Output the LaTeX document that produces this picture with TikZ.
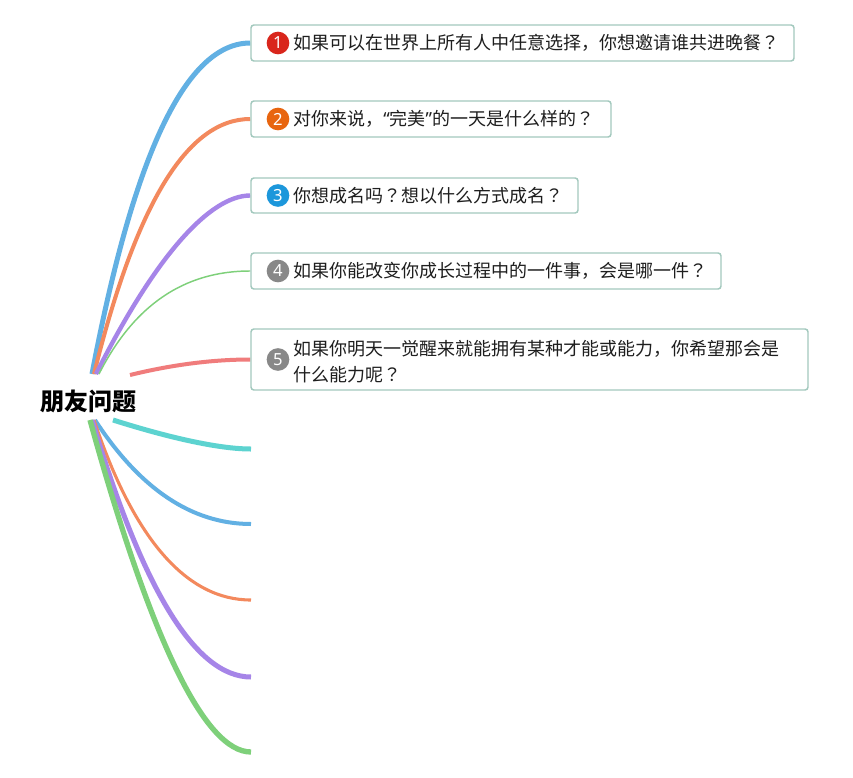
\documentclass[tikz,border=0pt]{standalone}
\usepackage{fontspec}
\setmainfont{Noto Sans CJK SC}
\newfontfamily\tcq{Noto Sans CJK TC}
\newfontfamily\latinq{Noto Sans}
\newcommand{\qmark}{{\tcq ？}}
\usetikzlibrary{backgrounds,calc}
\definecolor{cblue}{HTML}{62B0E3}
\definecolor{corange}{HTML}{F3895D}
\definecolor{cpurple}{HTML}{A685E8}
\definecolor{cgreen}{HTML}{7ED07A}
\definecolor{cred}{HTML}{F07C7C}
\definecolor{cteal}{HTML}{5DD3D0}
\definecolor{boxc}{HTML}{A3C9BE}
\definecolor{txt}{HTML}{1E1E1E}
\definecolor{bred}{HTML}{D9261C}
\definecolor{borange}{HTML}{E8650F}
\definecolor{bblue}{HTML}{1C97DB}
\definecolor{bgray}{HTML}{888888}
\begin{document}
\begin{tikzpicture}[x=0.75pt,y=-0.75pt,
  qbox/.style={draw=boxc, line width=1.1pt, rounded corners=2.2pt, fill=white, inner sep=0pt},
  qtext/.style={anchor=west, inner sep=0pt, font=\fontsize{13.5pt}{19.5pt}\selectfont, text=txt, align=left},
  badge/.style={circle, fill=#1, text=white, inner sep=0pt, minimum size=17pt, font=\latinq\fontsize{12.5pt}{12.5pt}\selectfont},
  branch/.style={draw=#1, line cap=butt}]
\useasboundingbox (0,0) rectangle (853,778);
% root
\node[inner sep=0pt, font=\bfseries\fontsize{18pt}{18pt}\selectfont, text=black] (root) at (88,401) {朋友问题};
% question boxes
\node[qbox, minimum width=543*0.75pt, minimum height=36*0.75pt] (q1) at (522.5,43) {};
\node[badge=bred] (b1) at (278,43) {1};
\node[qtext] (t1) at (293,43) {如果可以在世界上所有人中任意选择，你想邀请谁共进晚餐\qmark};
\node[qbox, minimum width=360*0.75pt, minimum height=36*0.75pt] (q2) at (431,119) {};
\node[badge=borange] (b2) at (278,119) {2};
\node[qtext] (t2) at (293,119) {对你来说，{\latinq “}完美{\latinq ”}的一天是什么样的\qmark};
\node[qbox, minimum width=327*0.75pt, minimum height=35*0.75pt] (q3) at (414.5,195.5) {};
\node[badge=bblue] (b3) at (278,195.5) {3};
\node[qtext] (t3) at (293,195.5) {你想成名吗\qmark 想以什么方式成名\qmark};
\node[qbox, minimum width=470*0.75pt, minimum height=36*0.75pt] (q4) at (486,271) {};
\node[badge=bgray] (b4) at (278,271) {4};
\node[qtext] (t4) at (293,271) {如果你能改变你成长过程中的一件事，会是哪一件\qmark};
\node[qbox, minimum width=557*0.75pt, minimum height=61*0.75pt] (q5) at (529.5,359.5) {};
\node[badge=bgray] (b5) at (278,359.5) {5};
\node[qtext] (t5) at (293,362) {如果你明天一觉醒来就能拥有某种才能或能力，你希望那会是\\什么能力呢\qmark};
% branch start and free end points
\coordinate (s1) at (92,374);
\coordinate (s2) at (94,374);
\coordinate (s3) at (96,374);
\coordinate (s4) at (99,374);
\coordinate (s5) at (130,375);
\coordinate (s6) at (113,420);
\coordinate (s7) at (95,420);
\coordinate (s8) at (94,420);
\coordinate (s9) at (92,420);
\coordinate (s10) at (90,420);
\coordinate (e6) at (251,449);
\coordinate (e7) at (251,524);
\coordinate (e8) at (251,600);
\coordinate (e9) at (251,677);
\coordinate (e10) at (251,752);
\begin{pgfonlayer}{background}
\fill[white] (0,0) rectangle (853,778);
\draw[branch=cblue, line width=3.75pt] (s1) .. controls +(42,-221) and +(-64,0) .. (q1.west);
\draw[branch=corange, line width=3pt] (s2) .. controls +(42,-170) and +(-63,0) .. (q2.west);
\draw[branch=cpurple, line width=3.3pt] (s3) .. controls +(60,-119) and +(-40,0) .. (q3.west);
\draw[branch=cgreen, line width=1.1pt] (s4) .. controls +(35,-69) and +(-66,0) .. (q4.west);
\draw[branch=cred, line width=3pt] (s5) .. controls +(45,-11) and +(-35,0) .. (q5.west);
\draw[branch=cteal, line width=3.75pt] (s6) .. controls +(60,19) and +(-30,0) .. (e6);
\draw[branch=cblue, line width=3pt] (s7) .. controls +(45,69) and +(-59,0) .. (e7);
\draw[branch=corange, line width=2.3pt] (s8) .. controls +(40,120) and +(-64,0) .. (e8);
\draw[branch=cpurple, line width=3.75pt] (s9) .. controls +(51,171) and +(-55,0) .. (e9);
\draw[branch=cgreen, line width=4pt] (s10) .. controls +(61,221) and +(-46,0) .. (e10);
\end{pgfonlayer}
\end{tikzpicture}
\end{document}
